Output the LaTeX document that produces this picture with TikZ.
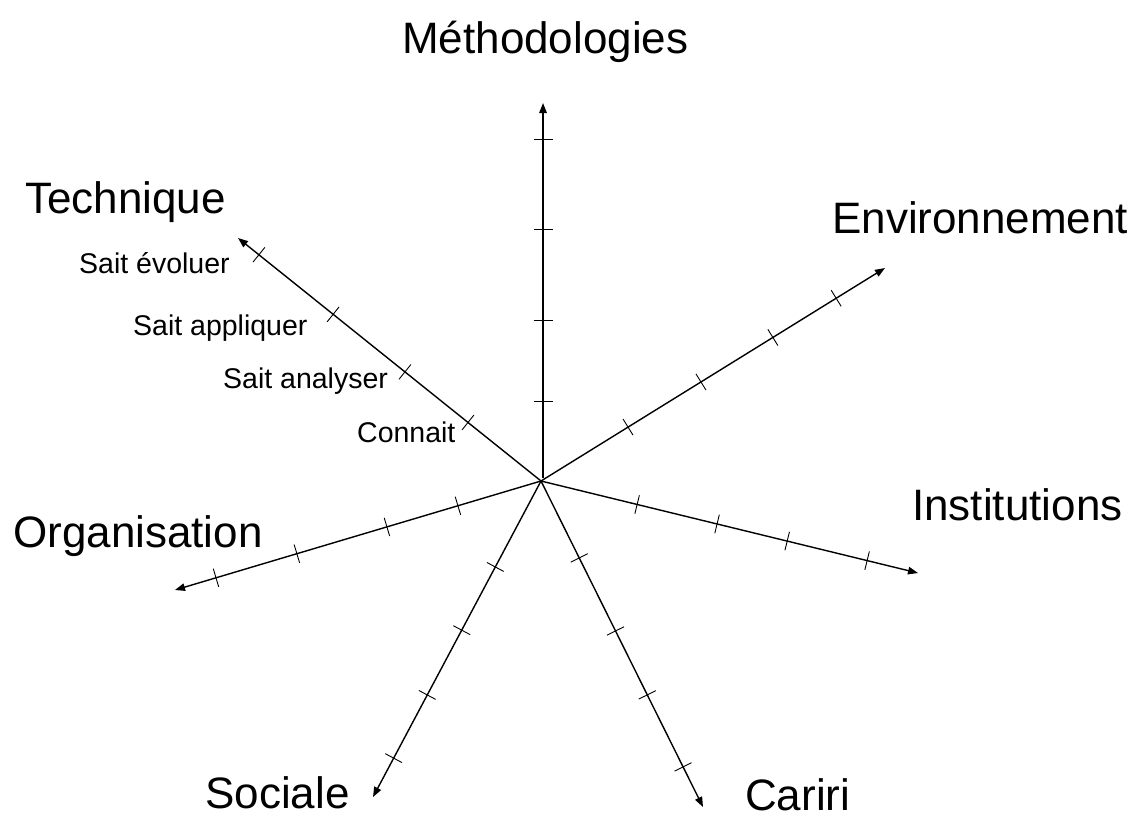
\documentclass[tikz,border=0pt]{standalone}
\usepackage{fontspec}
\setmainfont{Liberation Sans}
\usetikzlibrary{arrows.meta,calc}
\newcommand{\radticks}[3]{%
  \foreach \t in {#3}{%
    \coordinate (p) at ($(#1)!\t!(#2)$);
    \draw[tickline] ($(p)!9.5pt!90:(#2)$) -- ($(p)!9.5pt!-90:(#2)$);
  }}
\begin{document}
\begin{tikzpicture}[x=1pt,y=-1pt,
  axis/.style={line width=1.4pt,-{Triangle[length=10pt,width=7.5pt]}},
  tickline/.style={line width=0.9pt},
  biglabel/.style={anchor=base west,inner sep=0pt,font=\fontsize{44}{52}\selectfont},
  smalllabel/.style={anchor=base west,inner sep=0pt,font=\fontsize{28.5}{34}\selectfont}]
\useasboundingbox (0,0) rectangle (1134,819);
% centre and axis ends
\coordinate (c) at (541,481);
\coordinate (cM) at (543,478);
\coordinate (tM) at (543,103);
\coordinate (tT) at (238,238);
\coordinate (tE) at (885,268);
\coordinate (tI) at (918,573);
\coordinate (tC) at (703,807);
\coordinate (tS) at (373,797);
\coordinate (tO) at (175,590);
% axes
\draw[axis] (cM) -- (tM);
\draw[axis] (c) -- (tT);
\draw[axis] (c) -- (tE);
\draw[axis] (c) -- (tI);
\draw[axis] (c) -- (tC);
\draw[axis] (c) -- (tS);
\draw[axis] (c) -- (tO);
% ticks
\radticks{cM}{tM}{0.205,0.421,0.664,0.904}
\radticks{c}{tT}{0.241,0.449,0.686,0.931}
\radticks{c}{tE}{0.253,0.465,0.674,0.858}
\radticks{c}{tI}{0.255,0.467,0.653,0.865}
\radticks{c}{tC}{0.236,0.460,0.656,0.877}
\radticks{c}{tS}{0.272,0.472,0.677,0.877}
\radticks{c}{tO}{0.227,0.421,0.667,0.888}
% axis labels
\node[biglabel] (lM) at (402,53) {Méthodologies};
\node[biglabel] (lT) at (25,213) {Technique};
\node[biglabel] (lE) at (832,233) {Environnement};
\node[biglabel] (lI) at (912,520) {Institutions};
\node[biglabel] (lO) at (13,547) {Organisation};
\node[biglabel] (lS) at (205,808) {Sociale};
\node[biglabel] (lC) at (745,810) {Cariri};
% level labels
\node[smalllabel] (s4) at (79,273) {Sait évoluer};
\node[smalllabel] (s3) at (133,335) {Sait appliquer};
\node[smalllabel] (s2) at (223,388) {Sait analyser};
\node[smalllabel] (s1) at (357,442) {Connait};
\end{tikzpicture}
\end{document}
